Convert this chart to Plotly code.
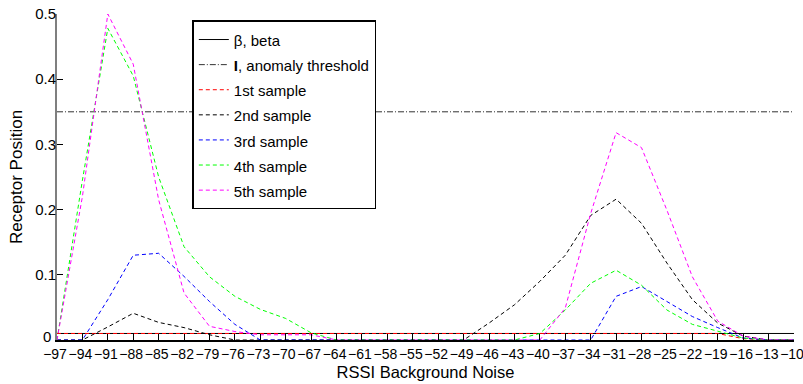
import plotly.graph_objects as go

x_rssi = list(range(-97, -9, 3))
y_ticks = [0, 0.1, 0.2, 0.3, 0.4, 0.5]
y_ticktext = ["", "0.1", "0.2", "0.3", "0.4", "0.5"]

beta = [0.01] * 30
threshold = [0.35] * 30
sample1 = [0.01] * 27 + [0.002, 0, 0]
sample2 = [0, 0, 0.02, 0.041, 0.027, 0.019, 0.008, 0,
           0, 0, 0, 0, 0, 0, 0, 0, 0,
           0.026, 0.054, 0.090, 0.130, 0.191, 0.216, 0.179, 0.118, 0.062, 0.026, 0.006, 0, 0]
sample3 = [0, 0, 0.062, 0.130, 0.133, 0.0975, 0.059, 0.024, 0,
           0, 0, 0, 0, 0, 0, 0, 0, 0, 0, 0, 0, 0,
           0.067, 0.082, 0.059, 0.036, 0.019, 0.003, 0, 0]
sample4 = [0, 0.245, 0.478, 0.405, 0.25, 0.143, 0.097, 0.067, 0.047, 0.033, 0.011, 0,
           0, 0, 0, 0, 0, 0, 0,
           0.01, 0.046, 0.087, 0.107, 0.084, 0.046, 0.024, 0.013, 0.003, 0, 0]
sample5 = [0, 0.22, 0.5, 0.423, 0.215, 0.072, 0.021, 0.013, 0.008, 0.008, 0.008, 0,
           0, 0, 0, 0, 0, 0, 0, 0,
           0.049, 0.194, 0.318, 0.295, 0.199, 0.097, 0.029, 0.006, 0, 0]

names = ["β, beta", "<b>I</b>, anomaly threshold", "1st sample", "2nd sample",
         "3rd sample", "4th sample", "5th sample"]

FONT = "Liberation Sans, Arial, Helvetica, sans-serif"
DASH = "4px,3px"

fig = go.Figure()
series = [
    (beta, names[0], "#000000", "solid"),
    (threshold, names[1], "#333333", "6px,2px,1px,2px"),
    (sample1, names[2], "#ff0000", DASH),
    (sample2, names[3], "#000000", DASH),
    (sample3, names[4], "#0000ff", DASH),
    (sample4, names[5], "#00ff00", DASH),
    (sample5, names[6], "#ff00ff", DASH),
]
for ys, nm, col, dash in series:
    fig.add_trace(go.Scatter(
        x=x_rssi, y=ys, mode="lines",
        name='<span style="font-size:15px">' + nm + '</span>',
        line=dict(color=col, width=1, dash=dash),
    ))

# zero label of the y axis, lifted slightly as in the reference
fig.add_annotation(x=0, xref="paper", y=0, yref="paper", text="0",
                   showarrow=False, xanchor="right", yanchor="middle",
                   xshift=-4, yshift=4, font=dict(size=15, color="black"))

fig.update_layout(
    template="none",
    width=803, height=384,
    margin=dict(l=56.5, r=8.5, t=13.5, b=43.5),
    paper_bgcolor="white", plot_bgcolor="white",
    font=dict(family=FONT, size=14, color="black"),
    showlegend=True,
    legend=dict(
        x=(192 - 56.5) / 738, y=(340.5 - 20) / 327,
        xanchor="left", yanchor="top",
        bgcolor="white", bordercolor="black", borderwidth=1.5,
        font=dict(family=FONT, size=17, color="black"),
        itemwidth=30,
    ),
    xaxis=dict(
        range=[-97, -10], tickmode="array", tickvals=x_rssi,
        ticks="inside", ticklen=6, tickcolor="black", tickwidth=1,
        showline=True, linecolor="black", linewidth=1.5,
        showgrid=False, zeroline=False, tickangle=0, automargin=False,
        ticklabeloverflow="allow", ticklabelshift=-2,
        tickfont=dict(size=14),
        title=dict(text="RSSI Background Noise", font=dict(size=16.5), standoff=6),
    ),
    yaxis=dict(
        range=[0, 0.5], tickmode="array", tickvals=y_ticks, ticktext=y_ticktext,
        ticks="inside", ticklen=6, tickcolor="black", tickwidth=1,
        showline=True, linecolor="#7f7f7f", linewidth=2,
        showgrid=False, zeroline=False, ticklabelstandoff=-4, automargin=False,
        tickfont=dict(size=15),
        title=dict(text="Receptor Position", font=dict(size=17), standoff=8),
    ),
)

fig.write_html("out.html")
